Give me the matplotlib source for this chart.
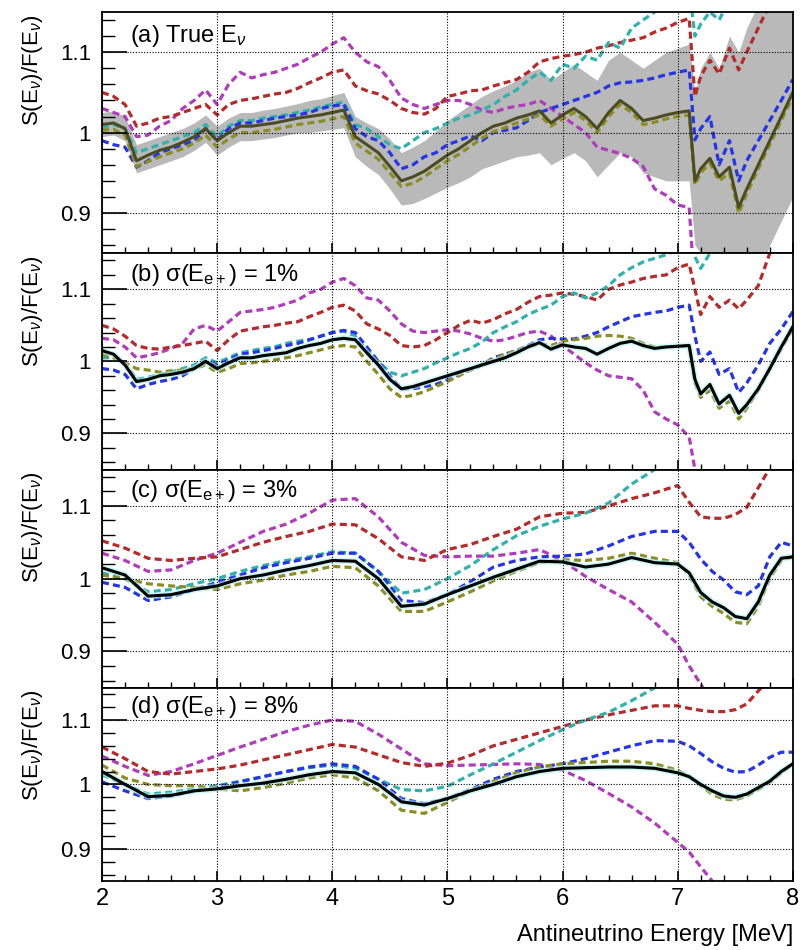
import matplotlib
matplotlib.use("Agg")
import matplotlib.pyplot as plt
import matplotlib.gridspec as gridspec
from matplotlib.ticker import MultipleLocator
import numpy as np

nan = np.nan

# energy grids [MeV]
e_fine = [2.0, 2.1, 2.2, 2.3, 2.4, 2.5, 2.6, 2.7, 2.8, 2.9,
          3.0, 3.1, 3.2, 3.3, 3.4, 3.5, 3.6, 3.7, 3.8, 3.9,
          4.0, 4.1, 4.2, 4.3, 4.4, 4.5, 4.6, 4.7, 4.8, 4.9,
          5.0, 5.1, 5.2, 5.3, 5.4, 5.5, 5.6, 5.7, 5.8, 5.9,
          6.0, 6.1, 6.2, 6.3, 6.4, 6.5, 6.6, 6.7, 6.8, 6.9,
          7.0, 7.1, 7.15, 7.2, 7.28, 7.36, 7.45, 7.53, 7.6, 7.7,
          7.8, 7.9, 8.0]
e_coarse = [2.0, 2.2, 2.4, 2.6, 2.8, 3.0, 3.2, 3.4, 3.6, 3.8,
            4.0, 4.2, 4.4, 4.6, 4.8, 5.0, 5.2, 5.4, 5.6, 5.8,
            6.0, 6.2, 6.4, 6.6, 6.8, 7.0, 7.1, 7.2, 7.3, 7.4,
            7.5, 7.6, 7.7, 7.8, 7.9, 8.0]

# (a) true energy
a_magenta = [1.030, 1.025, 1.020, 0.995, 0.997, 1.008, 1.015, 1.030, 1.040, 1.053,
             1.035, 1.060, 1.075, 1.068, 1.072, 1.075, 1.080, 1.085, 1.093, 1.100,
             1.110, 1.118, 1.100, 1.088, 1.082, 1.065, 1.043, 1.035, 1.030, 1.035,
             1.040, 1.040, 1.035, 1.028, 1.025, 1.030, 1.033, 1.035, 1.040, 1.030,
             1.020, 1.010, 1.000, 0.982, 0.978, 0.974, 0.968, 0.958, 0.930, 0.922,
             0.910, 0.907, 0.800, nan, nan, nan, nan, nan, nan, nan,
             nan, nan, nan]
a_red = [1.050, 1.045, 1.035, 1.008, 1.012, 1.018, 1.020, 1.025, 1.030, 1.035,
         1.022, 1.035, 1.040, 1.042, 1.045, 1.048, 1.050, 1.055, 1.062, 1.068,
         1.075, 1.078, 1.058, 1.052, 1.048, 1.040, 1.030, 1.025, 1.023, 1.030,
         1.045, 1.048, 1.052, 1.053, 1.058, 1.062, 1.066, 1.075, 1.088, 1.092,
         1.095, 1.097, 1.100, 1.105, 1.108, 1.112, 1.115, 1.118, 1.125, 1.130,
         1.137, 1.142, 1.045, 1.070, 1.090, 1.073, 1.105, 1.078, 1.100, 1.130,
         1.160, 1.190, 1.220]
a_teal = [1.005, 1.010, 1.005, 0.975, 0.980, 0.985, 0.990, 0.995, 1.000, 1.010,
          0.995, 1.008, 1.015, 1.015, 1.018, 1.020, 1.022, 1.025, 1.028, 1.032,
          1.035, 1.038, 1.010, 1.005, 0.995, 0.985, 0.980, 0.990, 1.000, 1.005,
          1.012, 1.018, 1.022, 1.028, 1.035, 1.045, 1.053, 1.065, 1.075, 1.065,
          1.085, 1.080, 1.095, 1.090, 1.112, 1.105, 1.130, 1.140, 1.150, 1.158,
          1.170, 1.180, 1.120, 1.135, 1.150, 1.140, 1.165, 1.190, 1.200, 1.210,
          1.220, 1.230, 1.240]
a_blue = [0.990, 0.985, 0.982, 0.957, 0.965, 0.975, 0.980, 0.985, 0.990, 1.005,
          0.990, 1.005, 1.012, 1.012, 1.015, 1.018, 1.020, 1.022, 1.025, 1.030,
          1.033, 1.035, 1.005, 0.995, 0.990, 0.975, 0.955, 0.960, 0.970, 0.975,
          0.985, 0.990, 0.996, 0.990, 1.000, 1.003, 1.006, 1.015, 1.025, 1.030,
          1.035, 1.040, 1.045, 1.050, 1.058, 1.062, 1.063, 1.065, 1.068, 1.072,
          1.075, 1.078, 0.991, 1.005, 1.020, 0.960, 0.990, 0.940, 0.965, 0.990,
          1.015, 1.040, 1.066]
a_central = [1.010, 1.012, 1.005, 0.965, 0.972, 0.978, 0.982, 0.988, 0.995, 1.005,
             0.990, 1.000, 1.008, 1.008, 1.010, 1.012, 1.015, 1.018, 1.020, 1.022,
             1.025, 1.028, 0.995, 0.985, 0.975, 0.958, 0.940, 0.945, 0.952, 0.962,
             0.972, 0.980, 0.990, 1.000, 1.008, 1.012, 1.018, 1.022, 1.027, 1.012,
             1.022, 1.030, 1.020, 1.005, 1.025, 1.040, 1.030, 1.015, 1.018, 1.022,
             1.025, 1.027, 0.940, 0.955, 0.968, 0.945, 0.957, 0.907, 0.930, 0.960,
             0.990, 1.020, 1.050]
a_olive = [1.003, 1.004, 0.997, 0.958, 0.964, 0.970, 0.975, 0.980, 0.987, 0.997,
           0.982, 0.992, 1.000, 1.000, 1.002, 1.004, 1.007, 1.010, 1.012, 1.014,
           1.017, 1.020, 0.987, 0.977, 0.967, 0.950, 0.933, 0.937, 0.945, 0.955,
           0.965, 0.973, 0.983, 0.993, 1.001, 1.006, 1.012, 1.017, 1.022, 1.008,
           1.017, 1.025, 1.015, 1.000, 1.020, 1.035, 1.025, 1.010, 1.013, 1.017,
           1.020, 1.022, 0.935, 0.950, 0.962, 0.940, 0.950, 0.900, 0.924, 0.955,
           0.985, 1.015, 1.045]
a_band_hi = [1.025, 1.027, 1.020, 0.985, 0.990, 0.995, 1.000, 1.005, 1.012, 1.022,
             1.008, 1.018, 1.025, 1.025, 1.028, 1.030, 1.033, 1.036, 1.040, 1.042,
             1.046, 1.050, 1.020, 1.012, 1.005, 0.992, 0.975, 0.982, 0.990, 1.002,
             1.015, 1.025, 1.035, 1.045, 1.052, 1.058, 1.065, 1.075, 1.080, 1.065,
             1.075, 1.085, 1.075, 1.065, 1.090, 1.100, 1.090, 1.080, 1.090, 1.100,
             1.105, 1.110, 1.050, 1.080, 1.100, 1.080, 1.120, 1.100, 1.130, 1.160,
             1.200, 1.200, 1.200]
a_band_lo = [0.995, 0.997, 0.990, 0.950, 0.955, 0.960, 0.965, 0.970, 0.978, 0.988,
             0.972, 0.982, 0.990, 0.990, 0.992, 0.994, 0.997, 1.000, 1.000, 1.002,
             1.004, 1.006, 0.970, 0.958, 0.948, 0.930, 0.910, 0.912, 0.918, 0.925,
             0.932, 0.938, 0.945, 0.955, 0.960, 0.965, 0.970, 0.972, 0.975, 0.960,
             0.968, 0.975, 0.965, 0.945, 0.960, 0.975, 0.970, 0.950, 0.945, 0.940,
             0.940, 0.940, 0.860, 0.850, 0.830, 0.820, 0.820, 0.800, 0.800, 0.820,
             0.860, 0.890, 0.920]

# (b) 1% resolution
b_magenta = [1.032, 1.030, 1.020, 1.005, 1.008, 1.012, 1.018, 1.025, 1.045, 1.050,
             1.042, 1.055, 1.068, 1.070, 1.072, 1.075, 1.080, 1.085, 1.095, 1.100,
             1.110, 1.115, 1.105, 1.088, 1.085, 1.070, 1.052, 1.042, 1.040, 1.042,
             1.044, 1.042, 1.038, 1.032, 1.028, 1.030, 1.035, 1.040, 1.042, 1.035,
             1.022, 1.010, 0.998, 0.988, 0.980, 0.978, 0.976, 0.960, 0.930, 0.920,
             0.912, 0.895, 0.850, 0.800, nan, nan, nan, nan, nan, nan,
             nan, nan, nan]
b_red = [1.050, 1.045, 1.035, 1.022, 1.018, 1.017, 1.020, 1.022, 1.025, 1.028,
         1.015, 1.030, 1.042, 1.045, 1.048, 1.050, 1.053, 1.055, 1.062, 1.068,
         1.075, 1.078, 1.070, 1.052, 1.045, 1.036, 1.022, 1.020, 1.022, 1.030,
         1.040, 1.050, 1.057, 1.053, 1.058, 1.066, 1.072, 1.082, 1.090, 1.092,
         1.095, 1.093, 1.090, 1.085, 1.100, 1.106, 1.110, 1.115, 1.118, 1.120,
         1.130, 1.135, 1.100, 1.065, 1.090, 1.075, 1.085, 1.073, 1.085, 1.105,
         1.150, 1.190, 1.220]
b_teal = [1.005, 1.005, 0.998, 0.975, 0.978, 0.982, 0.985, 0.990, 0.995, 1.005,
          0.998, 1.005, 1.012, 1.015, 1.018, 1.020, 1.025, 1.028, 1.030, 1.035,
          1.040, 1.042, 1.035, 1.015, 1.000, 0.985, 0.980, 0.985, 0.990, 0.998,
          1.005, 1.012, 1.018, 1.027, 1.040, 1.048, 1.055, 1.065, 1.072, 1.078,
          1.090, 1.095, 1.088, 1.095, 1.105, 1.120, 1.130, 1.138, 1.143, 1.148,
          1.155, 1.160, 1.145, 1.129, 1.150, 1.170, 1.200, 1.200, 1.200, 1.200,
          1.200, 1.200, 1.200]
b_blue = [0.990, 0.988, 0.982, 0.962, 0.968, 0.972, 0.975, 0.980, 0.990, 1.000,
          0.995, 1.002, 1.010, 1.012, 1.015, 1.018, 1.022, 1.025, 1.030, 1.035,
          1.040, 1.043, 1.040, 1.020, 1.000, 0.980, 0.962, 0.962, 0.965, 0.968,
          0.975, 0.982, 0.988, 0.995, 1.005, 1.010, 1.015, 1.022, 1.030, 1.032,
          1.031, 1.031, 1.035, 1.040, 1.048, 1.055, 1.062, 1.065, 1.068, 1.070,
          1.075, 1.078, 1.035, 1.000, 1.013, 0.982, 0.990, 0.957, 0.970, 0.995,
          1.025, 1.045, 1.069]
b_black = [1.015, 1.010, 0.995, 0.972, 0.975, 0.980, 0.982, 0.985, 0.990, 1.000,
           0.990, 0.998, 1.005, 1.005, 1.008, 1.010, 1.012, 1.018, 1.022, 1.025,
           1.030, 1.032, 1.030, 1.012, 0.995, 0.975, 0.962, 0.965, 0.970, 0.975,
           0.980, 0.985, 0.990, 0.995, 1.000, 1.005, 1.012, 1.020, 1.026, 1.017,
           1.023, 1.020, 1.018, 1.010, 1.018, 1.025, 1.028, 1.022, 1.018, 1.020,
           1.021, 1.022, 0.975, 0.955, 0.968, 0.941, 0.953, 0.928, 0.940, 0.962,
           0.990, 1.020, 1.048]
b_olive = [1.010, 1.005, 0.998, 0.990, 0.988, 0.985, 0.987, 0.988, 0.990, 0.995,
           0.985, 0.990, 0.997, 0.998, 1.000, 1.002, 1.005, 1.008, 1.012, 1.016,
           1.020, 1.022, 1.020, 1.000, 0.982, 0.962, 0.950, 0.953, 0.958, 0.965,
           0.972, 0.980, 0.988, 0.996, 1.003, 1.010, 1.015, 1.020, 1.025, 1.022,
           1.028, 1.030, 1.032, 1.035, 1.036, 1.035, 1.032, 1.025, 1.020, 1.020,
           1.021, 1.022, 0.970, 0.950, 0.960, 0.935, 0.945, 0.920, 0.935, 0.960,
           0.990, 1.018, 1.045]

# (c) 3% resolution
c_magenta = [1.035, 1.025, 1.010, 1.012, 1.025, 1.035, 1.050, 1.065, 1.075, 1.090,
             1.108, 1.110, 1.085, 1.050, 1.032, 1.030, 1.031, 1.031, 1.035, 1.040,
             1.025, 1.003, 0.985, 0.968, 0.940, 0.910, 0.880, 0.855, 0.830, nan,
             nan, nan, nan, nan, nan, nan]
c_red = [1.052, 1.042, 1.028, 1.025, 1.028, 1.030, 1.040, 1.050, 1.058, 1.065,
         1.075, 1.074, 1.055, 1.030, 1.025, 1.040, 1.047, 1.058, 1.068, 1.085,
         1.090, 1.091, 1.100, 1.110, 1.118, 1.128, 1.105, 1.085, 1.083, 1.083,
         1.088, 1.098, 1.125, 1.152, 1.180, 1.210]
c_teal = [1.008, 1.000, 0.982, 0.985, 0.993, 1.000, 1.010, 1.018, 1.025, 1.030,
          1.037, 1.035, 1.010, 0.980, 0.985, 1.000, 1.018, 1.040, 1.059, 1.072,
          1.082, 1.090, 1.104, 1.130, 1.150, 1.170, 1.180, 1.200, 1.200, 1.200,
          1.200, 1.200, 1.200, 1.200, 1.200, 1.200]
c_blue = [0.995, 0.988, 0.970, 0.975, 0.985, 0.995, 1.005, 1.015, 1.022, 1.028,
          1.035, 1.035, 1.010, 0.970, 0.967, 0.978, 0.996, 1.016, 1.025, 1.030,
          1.031, 1.034, 1.045, 1.058, 1.065, 1.065, 1.050, 1.027, 1.010, 0.998,
          0.982, 0.978, 0.990, 1.030, 1.050, 1.045]
c_black = [1.015, 1.005, 0.976, 0.978, 0.985, 0.990, 1.000, 1.005, 1.012, 1.018,
           1.025, 1.024, 1.000, 0.962, 0.965, 0.978, 0.990, 1.002, 1.013, 1.024,
           1.023, 1.016, 1.020, 1.029, 1.022, 1.020, 1.008, 0.981, 0.968, 0.960,
           0.948, 0.945, 0.968, 1.005, 1.028, 1.030]
c_olive = [1.005, 1.000, 0.993, 0.990, 0.988, 0.985, 0.993, 0.998, 1.005, 1.010,
           1.017, 1.015, 0.990, 0.955, 0.955, 0.968, 0.982, 0.997, 1.010, 1.022,
           1.026, 1.025, 1.028, 1.035, 1.028, 1.022, 1.005, 0.975, 0.962, 0.952,
           0.940, 0.938, 0.962, 1.000, 1.025, 1.030]

# (d) 8% resolution
d_magenta = [1.044, 1.028, 1.014, 1.020, 1.032, 1.045, 1.058, 1.070, 1.082, 1.092,
             1.100, 1.098, 1.078, 1.055, 1.032, 1.029, 1.030, 1.031, 1.032, 1.031,
             1.022, 1.006, 0.986, 0.965, 0.940, 0.910, 0.895, 0.872, 0.850, 0.830,
             nan, nan, nan, nan, nan, nan]
d_red = [1.058, 1.040, 1.020, 1.016, 1.020, 1.024, 1.030, 1.038, 1.046, 1.054,
         1.062, 1.058, 1.046, 1.034, 1.028, 1.033, 1.045, 1.060, 1.070, 1.080,
         1.090, 1.100, 1.108, 1.115, 1.122, 1.122, 1.118, 1.115, 1.113, 1.113,
         1.116, 1.125, 1.145, 1.165, 1.185, 1.200]
d_teal = [1.015, 1.000, 0.985, 0.988, 0.993, 0.998, 1.005, 1.012, 1.020, 1.026,
          1.030, 1.025, 1.008, 0.992, 0.990, 0.997, 1.015, 1.032, 1.050, 1.068,
          1.085, 1.100, 1.112, 1.130, 1.150, 1.168, 1.178, 1.200, 1.200, 1.200,
          1.200, 1.200, 1.200, 1.200, 1.200, 1.200]
d_blue = [1.004, 0.990, 0.978, 0.982, 0.990, 0.996, 1.004, 1.012, 1.020, 1.027,
          1.032, 1.028, 1.008, 0.978, 0.970, 0.978, 0.992, 1.008, 1.020, 1.027,
          1.032, 1.040, 1.050, 1.060, 1.068, 1.067, 1.060, 1.048, 1.035, 1.025,
          1.019, 1.020, 1.030, 1.042, 1.050, 1.050]
d_black = [1.020, 1.000, 0.981, 0.983, 0.990, 0.993, 0.998, 1.002, 1.008, 1.015,
           1.020, 1.018, 1.000, 0.973, 0.968, 0.978, 0.990, 1.000, 1.012, 1.020,
           1.025, 1.026, 1.027, 1.027, 1.025, 1.018, 1.012, 1.000, 0.990, 0.982,
           0.980, 0.985, 0.995, 1.005, 1.020, 1.032]
d_olive = [1.030, 1.010, 1.000, 0.998, 0.998, 0.993, 0.990, 0.995, 1.002, 1.010,
           1.015, 1.010, 0.990, 0.960, 0.955, 0.972, 0.990, 1.005, 1.018, 1.027,
           1.032, 1.034, 1.036, 1.036, 1.032, 1.022, 1.012, 0.998, 0.985, 0.977,
           0.976, 0.982, 0.992, 1.003, 1.018, 1.032]

panel_labels = [r"(a) True E$_{\nu}$",
                r"(b) σ(E$_{\mathrm{e+}}$) = 1%",
                r"(c) σ(E$_{\mathrm{e+}}$) = 3%",
                r"(d) σ(E$_{\mathrm{e+}}$) = 8%"]

plt.rcParams['font.family'] = ['Liberation Sans', 'DejaVu Sans']
plt.rcParams['mathtext.fontset'] = 'custom'
plt.rcParams['mathtext.rm'] = 'Liberation Sans'
plt.rcParams['mathtext.it'] = 'Liberation Sans:italic'

MAGENTA = '#b03cbc'
RED = '#b52a2a'
TEAL = '#2fb2ac'
BLUE = '#2434e6'
OLIVE = '#8c8c24'
DASH = (0, (2.2, 1.3))
LW = 2.3


def style_axis(ax, label, bottom=False):
    ax.set_xlim(2, 8)
    ax.set_ylim(0.85, 1.15)
    ax.set_yticks([0.9, 1.0, 1.1], ['0.9', '1', '1.1'])
    ax.yaxis.set_minor_locator(MultipleLocator(0.02))
    ax.xaxis.set_major_locator(MultipleLocator(1))
    ax.xaxis.set_minor_locator(MultipleLocator(0.2))
    ax.tick_params(axis='y', which='major', direction='in', length=18,
                   width=1.2, labelsize=16, pad=8)
    ax.tick_params(axis='y', which='minor', direction='in', length=9, width=1)
    ax.tick_params(axis='x', which='major', direction='in', length=7,
                   width=1.2, labelsize=17, pad=5, labelbottom=bottom)
    ax.tick_params(axis='x', which='minor', direction='in', length=4, width=1)
    ax.grid(True, which='major', color='black', linestyle=(0, (1, 1.5)),
            linewidth=0.8)
    ax.set_axisbelow(False)
    for sp in ax.spines.values():
        sp.set_linewidth(1.3)
    ax.set_ylabel(r"S(E$_{\nu}$)/F(E$_{\nu}$)", fontsize=16, loc='top')
    ax.yaxis.set_label_coords(-0.083, 0.99)
    ax.text(0.04, 0.9, label, transform=ax.transAxes, fontsize=17,
            va='center', ha='left')


def draw_models(ax, e, magenta, red, teal, blue, olive):
    ax.plot(e, magenta, color=MAGENTA, lw=LW, linestyle=DASH)
    ax.plot(e, red, color=RED, lw=LW, linestyle=DASH)
    ax.plot(e, teal, color=TEAL, lw=LW, linestyle=DASH)
    ax.plot(e, blue, color=BLUE, lw=LW, linestyle=DASH)
    ax.plot(e, olive, color=OLIVE, lw=LW, linestyle=DASH)


fig = plt.figure(figsize=(8, 9.5), dpi=100)
gs = gridspec.GridSpec(4, 1, height_ratios=[241, 216, 218, 193], hspace=0,
                       left=0.1275, right=0.991, top=0.9874, bottom=0.0726)
axes = [fig.add_subplot(gs[i]) for i in range(4)]

# (a)
ax = axes[0]
ax.fill_between(e_fine, a_band_lo, a_band_hi, color='#b9b9b9', lw=0)
draw_models(ax, e_fine, a_magenta, a_red, a_teal, a_blue, a_olive)
ax.plot(e_fine, a_central, color='#4c4c22', lw=2.2)
style_axis(ax, panel_labels[0])

# (b)
ax = axes[1]
draw_models(ax, e_fine, b_magenta, b_red, b_teal, b_blue, b_olive)
ax.plot(e_fine, b_black, color='#aaf2f2', lw=4.5, alpha=0.6)
ax.plot(e_fine, b_black, color='black', lw=2.2)
style_axis(ax, panel_labels[1])

# (c)
ax = axes[2]
draw_models(ax, e_coarse, c_magenta, c_red, c_teal, c_blue, c_olive)
ax.plot(e_coarse, c_black, color='#aaf2f2', lw=4.5, alpha=0.6)
ax.plot(e_coarse, c_black, color='black', lw=2.2)
style_axis(ax, panel_labels[2])

# (d)
ax = axes[3]
draw_models(ax, e_coarse, d_magenta, d_red, d_teal, d_blue, d_olive)
ax.plot(e_coarse, d_black, color='#aaf2f2', lw=4.5, alpha=0.6)
ax.plot(e_coarse, d_black, color='black', lw=2.2)
style_axis(ax, panel_labels[3], bottom=True)
ax.set_xlabel("Antineutrino Energy [MeV]", fontsize=17, loc='right',
              labelpad=10)

fig.savefig("out.png", dpi=100)
plt.close(fig)
